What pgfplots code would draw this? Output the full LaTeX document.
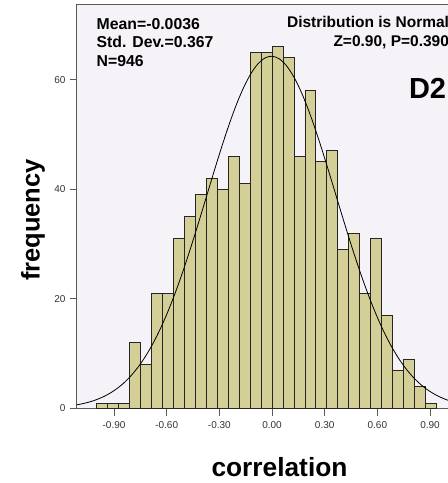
\documentclass[border=0pt]{standalone}
\usepackage{fontspec}
\setmainfont{Liberation Sans}
\usepackage{pgfplots}
\pgfplotsset{compat=1.18}
\definecolor{barfill}{RGB}{212,207,150}
\definecolor{bgc}{RGB}{246,243,248}
\definecolor{axc}{RGB}{90,90,90}
\begin{document}
\begin{tikzpicture}
\useasboundingbox (-77pt,-74.5pt) rectangle (371pt,408.5pt);
\begin{axis}[
  at={(0pt,0pt)}, anchor=south west,
  width=383pt, height=404.5pt, scale only axis,
  xmin=-1.111, xmax=1.0707, ymin=0, ymax=73.8,
  axis background/.style={fill=bgc},
  axis line style={draw=axc, line width=1pt},
  xtick={-0.9,-0.6,-0.3,0,0.3,0.6,0.9},
  xticklabels={-0.90,-0.60,-0.30,0.00,0.30,0.60,0.90},
  ytick={0,20,40,60},
  yticklabels={0,20,40,60},
  xtick pos=bottom, ytick pos=left,
  tick align=outside, major tick length=7pt,
  tick style={draw=axc, line width=0.8pt},
  /pgf/number format/assume math mode=true,
  tick label style={font=\fontsize{10}{12}\selectfont, text=black!80},
  xticklabel style={yshift=-2pt},
  yticklabel style={xshift=-1pt},
  clip=true,
]
\addplot[ybar interval, fill=barfill, draw=black!85, line width=0.9pt] coordinates {
(-1.0,1) (-0.9375,1) (-0.875,1) (-0.8125,12) (-0.75,8) (-0.6875,21) (-0.625,21)
(-0.5625,31) (-0.5,35) (-0.4375,39) (-0.375,42) (-0.3125,40) (-0.25,46) (-0.1875,41)
(-0.125,65) (-0.0625,65) (0,66) (0.0625,64) (0.125,46) (0.1875,58) (0.25,45)
(0.3125,47) (0.375,29) (0.4375,32) (0.5,21) (0.5625,31) (0.625,17) (0.6875,7)
(0.75,9) (0.8125,4) (0.875,1) (0.9375,1)
};
\addplot[black, line width=0.8pt, smooth] coordinates {
(-1.12,0.629) (-1.08,0.871) (-1.04,1.192) (-1.00,1.612) (-0.96,2.154) (-0.92,2.845)
(-0.88,3.713) (-0.84,4.789) (-0.80,6.102) (-0.76,7.685) (-0.72,9.563) (-0.68,11.760)
(-0.64,14.291) (-0.60,17.162) (-0.56,20.367) (-0.52,23.883) (-0.48,27.676) (-0.44,31.694)
(-0.40,35.867) (-0.36,40.108) (-0.32,44.322) (-0.28,48.401) (-0.24,52.229) (-0.20,55.697)
(-0.16,58.692) (-0.12,61.118) (-0.08,62.893) (-0.04,63.956) (0.00,64.268) (0.04,63.819)
(0.08,62.625) (0.12,60.727) (0.16,58.192) (0.20,55.104) (0.24,51.564) (0.28,47.681)
(0.32,43.570) (0.36,39.343) (0.40,35.108) (0.44,30.958) (0.48,26.975) (0.52,23.228)
(0.56,19.765) (0.60,16.620) (0.64,13.810) (0.68,11.340) (0.72,9.201) (0.76,7.378)
(0.80,5.847) (0.84,4.578) (0.88,3.542) (0.92,2.709) (0.96,2.047) (1.00,1.528)
(1.04,1.128) (1.08,0.822)
};
\end{axis}
\begin{scope}[every node/.style={inner sep=0pt, outer sep=0pt}]
\node[anchor=base west, font=\fontsize{15.8}{18}\selectfont\bfseries] at (19.7pt,379.2pt) {Mean=-0.0036};
\node[anchor=base west, font=\fontsize{15.8}{18}\selectfont\bfseries] at (19.7pt,360.8pt) {Std. Dev.=0.367};
\node[anchor=base west, font=\fontsize{15.8}{18}\selectfont\bfseries] at (19.7pt,341.8pt) {N=946};
\node[anchor=base east, font=\fontsize{15.5}{18}\selectfont\bfseries] at (372pt,380.5pt) {Distribution is Normal};
\node[anchor=base east, font=\fontsize{15.5}{18}\selectfont\bfseries] at (372pt,361.8pt) {Z=0.90, P=0.390};
\node[anchor=base west, font=\fontsize{29}{34}\selectfont\bfseries] at (332pt,309.5pt) {D2};
\node[rotate=90, anchor=center, font=\fontsize{25.5}{30}\selectfont\bfseries] at (-44pt,188.5pt) {frequency};
\node[anchor=base, font=\fontsize{26.3}{30}\selectfont\bfseries] at (202.5pt,-67.5pt) {correlation};
\end{scope}
\end{tikzpicture}
\end{document}
